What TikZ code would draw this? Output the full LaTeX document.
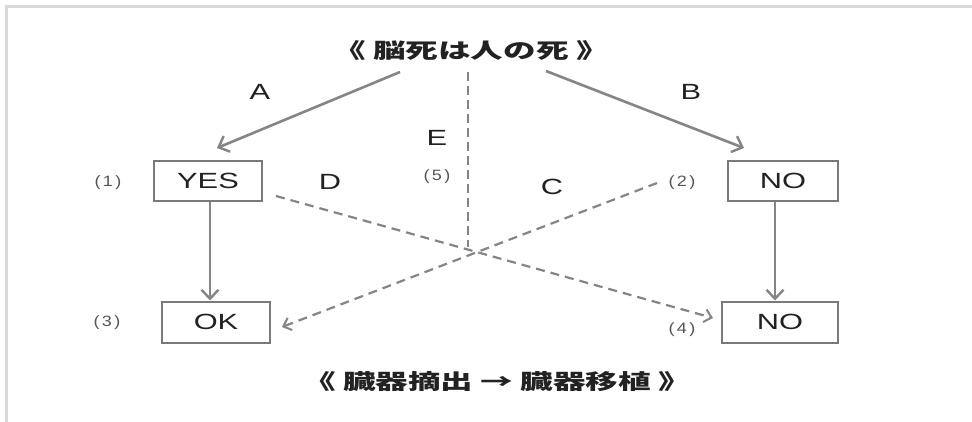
\documentclass[tikz,border=0pt]{standalone}
\usepackage{fontspec}
\usetikzlibrary{arrows.meta}
\newfontfamily\latinf[FakeStretch=1.4]{Liberation Sans}
\newfontfamily\numf[FakeStretch=1.2]{Liberation Sans}
\newfontfamily\jpf[FakeStretch=1.55]{Noto Sans CJK JP}
\definecolor{linegray}{HTML}{858585}
\definecolor{boxgray}{HTML}{7A7A7A}
\definecolor{txtgray}{HTML}{222222}
\definecolor{numgray}{HTML}{555555}
\definecolor{framegray}{HTML}{D9D9D9}
\tikzset{
  answerbox/.style={draw=boxgray, line width=2pt, minimum height=40pt, inner sep=0pt, text=txtgray, font=\latinf\fontsize{22}{22}\selectfont},
  letterlab/.style={text=txtgray, font=\latinf\fontsize{22}{22}\selectfont, inner sep=0pt},
  numlab/.style={text=numgray, font=\numf\fontsize{15}{15}\selectfont, inner sep=0pt},
  headlab/.style={text=txtgray, font=\jpf\bfseries\fontsize{21}{21}\selectfont, inner sep=0pt},
  solidarrow/.style={draw=linegray, line width=2.6pt, -{Straight Barb[length=9pt, width=17pt, line width=2.4pt]}},
  dasharrow/.style={draw=linegray, line width=2.2pt, dash pattern=on 9pt off 6pt, -{Straight Barb[length=7pt, width=13pt, line width=2pt]}},
  dashline/.style={draw=linegray, line width=2.2pt, dash pattern=on 9pt off 5pt},
}
\begin{document}
\begin{tikzpicture}[x=1pt, y=-1pt]
\fill[white] (0,0) rectangle (972,422);
\useasboundingbox (0,0) rectangle (972,422);
\draw[framegray, line width=3pt] (6,422) -- (6,7) -- (972,7);

\node[headlab] (title) at (471,51) {《 脳死は人の死 》};
\node[headlab] (bottom) at (497,382) {《 臓器摘出 → 臓器移植 》};

\node[answerbox, minimum width=108pt] (yes) at (208,181) {YES};
\node[answerbox, minimum width=110pt] (no1) at (783,181) {NO};
\node[answerbox, minimum width=108pt, minimum height=41pt] (ok) at (216,322) {OK};
\node[answerbox, minimum width=116pt, minimum height=41pt] (no2) at (780,322) {NO};

\node[letterlab] (la) at (260,92) {A};
\node[letterlab] (lb) at (691,92) {B};
\node[letterlab] (le) at (437,138) {E};
\node[letterlab] (ld) at (330,182) {D};
\node[letterlab] (lc) at (552,187) {C};

\node[numlab] (n1) at (108,183) {(\,1\,)};
\node[numlab] (n2) at (682,183) {(\,2\,)};
\node[numlab] (n3) at (107,323) {(\,3\,)};
\node[numlab] (n4) at (682,330) {(\,4\,)};
\node[numlab] (n5) at (437,177) {(\,5\,)};

\coordinate (a0) at (400,72);
\coordinate (a1) at (217,148);
\coordinate (b0) at (546,71);
\coordinate (b1) at (744,148);
\coordinate (e0) at (468,72);
\coordinate (e1) at (468,247);
\coordinate (d0) at (276,196);
\coordinate (d1) at (713,318);
\coordinate (c0) at (657,183);
\coordinate (c1) at (282,327);

\draw[solidarrow] (a0) -- (a1);
\draw[solidarrow] (b0) -- (b1);
\draw[dashline] (e0) -- (e1);
\draw[dasharrow] (d0) -- (d1);
\draw[dasharrow] (c0) -- (c1);
\draw[solidarrow] ([xshift=2pt]yes.south) -- ([xshift=2pt]yes.south |- ok.north);
\draw[solidarrow] ([xshift=-8pt]no1.south) -- ([xshift=-8pt]no1.south |- no2.north);
\end{tikzpicture}
\end{document}
